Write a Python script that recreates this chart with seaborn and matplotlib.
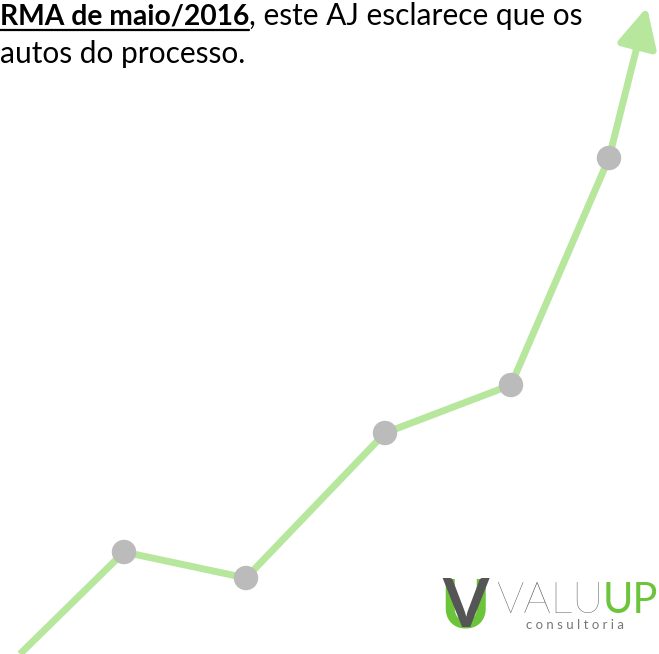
import matplotlib
matplotlib.use("Agg")
import matplotlib.pyplot as plt
from matplotlib.lines import Line2D
import seaborn as sns
import pandas as pd

# growth line (x position, value)
line_x = [20, 124, 246, 385, 511, 609]
line_y = [0, 102, 76, 221, 269, 496]
marker_x = [124, 246, 385, 511, 609]
marker_y = [102, 76, 221, 269, 496]
arrow_tip = (647, 647)

text_bold = "RMA de maio/2016"
text_rest = ", este AJ esclarece que os"
text_line2 = "autos do processo."

GREEN = "#b6e79c"
GRAY = "#bbbbbb"
LOGO_GREEN = "#6cc43a"
LOGO_GRAY = "#555555"

sns.set_theme(style="white")
plt.rcParams['font.family'] = ['Lato', 'DejaVu Sans']

fig = plt.figure(figsize=(6.59, 6.54), dpi=100)
ax = fig.add_axes([0, 0, 1, 1])
ax.set_xlim(0, 659)
ax.set_ylim(0, 654)
ax.axis("off")

df = pd.DataFrame({"x": line_x, "y": line_y})
sns.lineplot(data=df, x="x", y="y", ax=ax, color=GREEN, linewidth=5,
             solid_capstyle="butt", zorder=2)
ax.annotate("", xy=arrow_tip, xytext=(line_x[-1], line_y[-1]),
            arrowprops=dict(arrowstyle="-|>", color=GREEN, lw=5,
                            mutation_scale=60, shrinkA=0, shrinkB=0),
            zorder=2)
sns.scatterplot(x=marker_x, y=marker_y, ax=ax, s=310, color=GRAY,
                edgecolor="none", zorder=3)

fig.canvas.draw()
inv = ax.transData.inverted()

# header text
t1 = ax.text(0, 629, text_bold, fontsize=20.3, fontweight="bold",
             color="black", va="baseline", ha="left")
fig.canvas.draw()
x1, _ = inv.transform((t1.get_window_extent().x1, 0))
ax.add_line(Line2D([0, x1], [624, 624], color="black", lw=1.6))
ax.text(x1, 629, text_rest, fontsize=21.5, color="black",
        va="baseline", ha="left")
ax.text(0, 591, text_line2, fontsize=21.5, color="black",
        va="baseline", ha="left")

# logo
ax.text(465, 27, "U", fontsize=48, fontweight="bold", color=LOGO_GREEN,
        ha="center", va="baseline")
ax.text(465, 27, "V", fontsize=48, fontweight="bold", color=LOGO_GRAY,
        ha="center", va="baseline")
t_up = ax.text(658, 41, "UP", fontsize=30, fontweight="normal",
               color=LOGO_GREEN, ha="right", va="baseline")
fig.canvas.draw()
ux0, _ = inv.transform((t_up.get_window_extent().x0, 0))
ax.text(ux0 + 1, 41, "VALU", fontsize=31, fontweight="light",
        color=LOGO_GRAY, ha="right", va="baseline")
ax.text(575, 25, "c o n s u l t o r i a", fontsize=9.5, color="#777777",
        ha="center", va="baseline")

fig.savefig("out.png", dpi=100)
